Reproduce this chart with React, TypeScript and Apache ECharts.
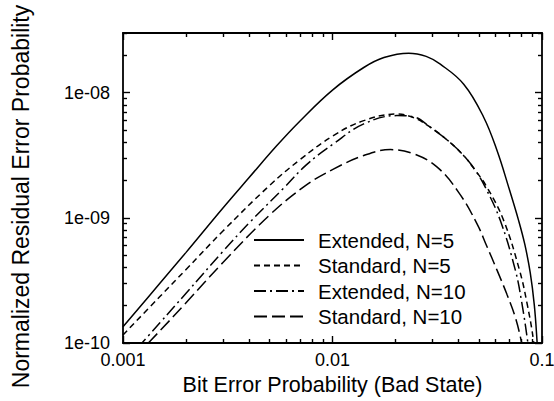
import React, { useEffect, useRef } from 'react';
import * as echarts from 'echarts';

const FONT = '"Liberation Sans", Arial, Helvetica, sans-serif';

const xMin = 0.001;
const xMax = 0.1;
const yMin = 1e-10;
const yMax = 3e-8;

const xMajorTicks = [0.001, 0.01, 0.1];
const xTickLabels = ['0.001', '0.01', '0.1'];
const xMinorTicks = [
  0.002, 0.003, 0.004, 0.005, 0.006, 0.007, 0.008, 0.009,
  0.02, 0.03, 0.04, 0.05, 0.06, 0.07, 0.08, 0.09,
];
const yMajorTicks = [1e-10, 1e-9, 1e-8];
const yTickLabels = ['1e-10', '1e-09', '1e-08'];
const yMinorTicks = [
  2e-10, 3e-10, 4e-10, 5e-10, 6e-10, 7e-10, 8e-10, 9e-10,
  2e-9, 3e-9, 4e-9, 5e-9, 6e-9, 7e-9, 8e-9, 9e-9,
  2e-8, 3e-8,
];

const seriesNames = ['Extended, N=5', 'Standard, N=5', 'Extended, N=10', 'Standard, N=10'];

// Extended, N=5 (solid)
const extN5X = [0.001, 0.0015, 0.002, 0.003, 0.004, 0.0054, 0.007, 0.01, 0.0141, 0.0176, 0.0231, 0.028, 0.0327, 0.0423, 0.0526, 0.061, 0.0693, 0.0773, 0.0828, 0.0879, 0.0919, 0.0946, 0.0965];
const extN5Y = [1.35e-10, 3.0e-10, 5.3e-10, 1.2e-9, 2.1e-9, 3.75e-9, 5.95e-9, 1.05e-8, 1.59e-8, 1.91e-8, 2.07e-8, 1.95e-8, 1.69e-8, 1.17e-8, 6.4e-9, 3.45e-9, 1.76e-9, 9.55e-10, 6.13e-10, 3.63e-10, 2.01e-10, 1.06e-10, 5.8e-11];

// Standard, N=5 (short dashes)
const stdN5X = [0.001, 0.0015, 0.002, 0.003, 0.005, 0.007, 0.0101, 0.0141, 0.0203, 0.0245, 0.0293, 0.036, 0.0423, 0.0481, 0.0546, 0.0656, 0.0781, 0.0848, 0.0912, 0.093];
const stdN5Y = [1.16e-10, 2.35e-10, 3.87e-10, 7.85e-10, 1.81e-9, 2.92e-9, 4.54e-9, 5.98e-9, 6.75e-9, 6.3e-9, 5.3e-9, 4.07e-9, 3.14e-9, 2.39e-9, 1.76e-9, 9.55e-10, 3.82e-10, 2.08e-10, 1.02e-10, 6e-11];

// Extended, N=10 (dash-dot)
const extN10X = [0.001, 0.0015, 0.002, 0.003, 0.004, 0.00585, 0.0075, 0.0101, 0.0141, 0.0203, 0.0245, 0.0293, 0.036, 0.0423, 0.0481, 0.0536, 0.0632, 0.0746, 0.0802, 0.0855, 0.089];
const extN10Y = [6.76e-11, 1.45e-10, 2.5e-10, 5.4e-10, 9.1e-10, 1.73e-9, 2.65e-9, 3.9e-9, 5.63e-9, 6.56e-9, 6.4e-9, 5.3e-9, 4.07e-9, 3.14e-9, 2.39e-9, 1.76e-9, 9.55e-10, 3.82e-10, 2.07e-10, 1.02e-10, 6e-11];

// Standard, N=10 (long dashes)
const stdN10X = [0.001, 0.0015, 0.002, 0.003, 0.005, 0.0074, 0.0101, 0.0141, 0.0189, 0.0244, 0.0316, 0.04, 0.0489, 0.0546, 0.061, 0.068, 0.0746, 0.08, 0.083];
const stdN10Y = [6.2e-11, 1.25e-10, 2.1e-10, 4.4e-10, 1.05e-9, 1.8e-9, 2.45e-9, 3.15e-9, 3.51e-9, 3.25e-9, 2.54e-9, 1.6e-9, 9.0e-10, 5.9e-10, 3.82e-10, 2.45e-10, 1.6e-10, 1.0e-10, 7e-11];

const seriesX = [extN5X, stdN5X, extN10X, stdN10X];
const seriesY = [extN5Y, stdN5Y, extN10Y, stdN10Y];
const dashTypes: any[] = ['solid', [6, 4], [12, 4, 2, 4], [13, 5]];

function labelFor(ticks: number[], labels: string[]) {
  return (v: number) => {
    const i = ticks.findIndex((t) => Math.abs(Math.log10(t) - Math.log10(v)) < 1e-6);
    return i >= 0 ? labels[i] : '';
  };
}

function makeX(position: string, major: boolean, withLabels: boolean, extra: any = {}) {
  return {
    type: 'log',
    logBase: 10,
    min: xMin,
    max: xMax,
    position,
    gridIndex: 0,
    axisLine: { show: major, onZero: false, lineStyle: { color: '#000', width: 1.8 } },
    axisTick: {
      show: true,
      inside: true,
      length: major ? 7 : 4,
      customValues: major ? xMajorTicks : xMinorTicks,
      lineStyle: { color: '#000', width: 1.4 },
    },
    axisLabel: withLabels
      ? {
          show: true,
          customValues: xMajorTicks,
          formatter: labelFor(xMajorTicks, xTickLabels),
          fontSize: 18,
          color: '#000',
          fontFamily: FONT,
          margin: 8,
        }
      : { show: false },
    splitLine: { show: false },
    minorTick: { show: false },
    ...extra,
  };
}

function makeY(position: string, major: boolean, withLabels: boolean) {
  return {
    type: 'log',
    logBase: 10,
    min: yMin,
    max: yMax,
    position,
    gridIndex: 0,
    axisLine: { show: major, onZero: false, lineStyle: { color: '#000', width: 1.8 } },
    axisTick: {
      show: true,
      inside: true,
      length: major ? 7 : 4,
      customValues: major ? yMajorTicks : yMinorTicks,
      lineStyle: { color: '#000', width: 1.4 },
    },
    axisLabel: withLabels
      ? {
          show: true,
          customValues: yMajorTicks,
          formatter: labelFor(yMajorTicks, yTickLabels),
          fontSize: 18,
          color: '#000',
          fontFamily: FONT,
          margin: 13,
        }
      : { show: false },
    splitLine: { show: false },
    minorTick: { show: false },
  };
}

export default function App() {
  const ref = useRef<HTMLDivElement>(null);
  useEffect(() => {
    if (!ref.current) return;
    const chart = echarts.init(ref.current, null, { renderer: 'svg' });
    const option: any = {
      animation: false,
      backgroundColor: '#fff',
      textStyle: { fontFamily: FONT, color: '#000' },
      grid: { left: 123, right: 12, top: 33, bottom: 58, containLabel: false, outerBoundsMode: 'none' },
      xAxis: [
        makeX('bottom', true, true, {
          name: 'Bit Error Probability (Bad State)',
          nameLocation: 'middle',
          nameGap: 29,
          nameTextStyle: { fontSize: 21.5, color: '#000', fontFamily: FONT },
        }),
        makeX('bottom', false, false),
        makeX('top', true, false),
        makeX('top', false, false),
      ],
      yAxis: [
        makeY('left', true, true),
        makeY('left', false, false),
        makeY('right', true, false),
        makeY('right', false, false),
      ],
      legend: {
        data: seriesNames,
        orient: 'vertical',
        left: 253,
        top: 229,
        padding: 0,
        itemWidth: 50,
        itemHeight: 22,
        itemGap: 3.5,
        selectedMode: false,
        itemStyle: { opacity: 0, color: 'rgba(0,0,0,0)', borderWidth: 0 },
        textStyle: { fontSize: 20.5, color: '#000', fontFamily: FONT, padding: [0, 0, 0, 9], lineHeight: 22 },
      },
      graphic: [
        {
          type: 'text',
          x: 21,
          y: 196.5,
          rotation: Math.PI / 2,
          style: {
            text: 'Normalized Residual Error Probability',
            fontSize: 23,
            fontFamily: FONT,
            fill: '#000',
            align: 'center',
            verticalAlign: 'middle',
          },
        },
      ],
      series: seriesNames.map((name, i) => ({
        name,
        type: 'line',
        xAxisIndex: 0,
        yAxisIndex: 0,
        data: seriesX[i].map((x, j) => [x, seriesY[i][j]]),
        showSymbol: false,
        symbol: 'none',
        smooth: 0.4,
        clip: true,
        lineStyle: { color: '#000', width: 1.5, type: dashTypes[i] },
        itemStyle: { color: '#000' },
      })),
    };
    chart.setOption(option);
    return () => chart.dispose();
  }, []);
  return <div ref={ref} style={{ position: 'fixed', left: 0, top: 0, width: 554, height: 401 }} />;
}
